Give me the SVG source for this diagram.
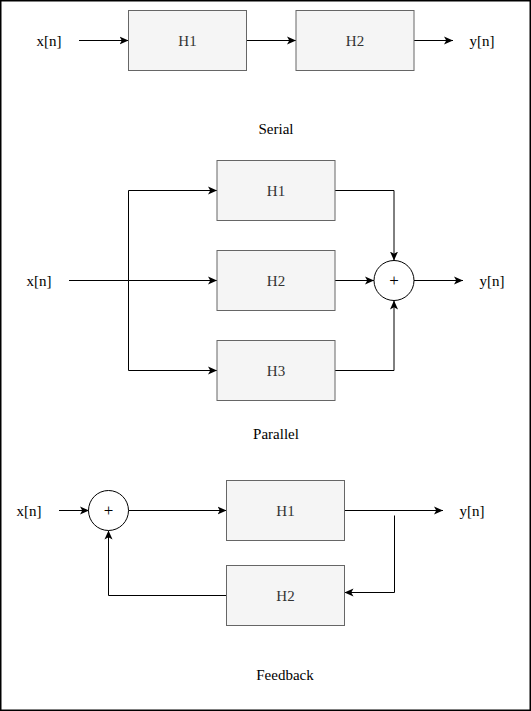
<svg xmlns="http://www.w3.org/2000/svg" width="531" height="711" viewBox="0 0 531 711">
<style>
.box{fill:#f5f5f5;stroke:#666;stroke-width:1}
.sum{fill:#fff;stroke:#000;stroke-width:1}
text{font-family:'Liberation Serif','Times New Roman',Times,serif;font-size:15px;fill:#000;text-anchor:middle}
.bt{fill:#333}
.pl{font-size:17px}
.c{fill:none;stroke:#000;stroke-width:1;marker-end:url(#ah)}
.cn{fill:none;stroke:#000;stroke-width:1}
</style>
<defs>
<marker id="ah" viewBox="0 0 10 10" refX="10" refY="5" markerWidth="9" markerHeight="9" markerUnits="userSpaceOnUse" orient="auto">
<path d="M0,0.5 L10,5 L0,9.5 L2.5,5 z" fill="#000"/>
</marker>
</defs>
<rect x="0.75" y="0.75" width="529.5" height="709.5" fill="#fff" stroke="#000" stroke-width="1.5"/>

<g id="connectors">
<path class="c" d="M79,40.5 L128.5,40.5"/>
<path class="c" d="M246.5,40.5 L296,40.5"/>
<path class="c" d="M414,40.5 L453,40.5"/>
<path class="cn" d="M69,280.5 L128.5,280.5"/>
<path class="c" d="M128.5,280.5 L217,280.5"/>
<path class="c" d="M128.5,280.5 L128.5,190.5 L217,190.5"/>
<path class="c" d="M128.5,280.5 L128.5,370.5 L217,370.5"/>
<path class="c" d="M335,190.5 L394,190.5 L394,260.5"/>
<path class="c" d="M335,280.5 L374,280.5"/>
<path class="c" d="M335,370.5 L394,370.5 L394,300.5"/>
<path class="c" d="M414,280.5 L463,280.5"/>
<path class="c" d="M59,510.5 L89,510.5"/>
<path class="c" d="M128.5,510.5 L226.5,510.5"/>
<path class="c" d="M344.5,510.5 L443,510.5"/>
<path class="c" d="M394.5,515.5 L394.5,592.5 L344.5,592.5"/>
<path class="c" d="M226.5,595.5 L108.5,595.5 L108.5,530.5"/>
</g>

<g id="serial-x"><text x="49" y="46">x[n]</text></g>
<g id="serial-H1"><rect class="box" x="128.5" y="10.5" width="118" height="60"/><text class="bt" x="187.5" y="46">H1</text></g>
<g id="serial-H2"><rect class="box" x="296" y="10.5" width="118" height="60"/><text class="bt" x="355" y="46">H2</text></g>
<g id="serial-y"><text x="482" y="46">y[n]</text></g>
<g id="serial-label"><text x="276" y="134">Serial</text></g>

<g id="parallel-x"><text x="39" y="286">x[n]</text></g>
<g id="parallel-H1"><rect class="box" x="217" y="160.5" width="118" height="60"/><text class="bt" x="276" y="196">H1</text></g>
<g id="parallel-H2"><rect class="box" x="217" y="250.5" width="118" height="60"/><text class="bt" x="276" y="286">H2</text></g>
<g id="parallel-H3"><rect class="box" x="217" y="340.5" width="118" height="60"/><text class="bt" x="276" y="376">H3</text></g>
<g id="parallel-sum"><circle class="sum" cx="394" cy="280.5" r="20"/><text class="pl" x="394" y="286">+</text></g>
<g id="parallel-y"><text x="492" y="286">y[n]</text></g>
<g id="parallel-label"><text x="276" y="439">Parallel</text></g>

<g id="feedback-x"><text x="29" y="516">x[n]</text></g>
<g id="feedback-sum"><circle class="sum" cx="108.5" cy="510.5" r="20"/><text class="pl" x="108.5" y="516">+</text></g>
<g id="feedback-H1"><rect class="box" x="226.5" y="480.5" width="118" height="60"/><text class="bt" x="285.5" y="516">H1</text></g>
<g id="feedback-H2"><rect class="box" x="226.5" y="565.5" width="118" height="60"/><text class="bt" x="285.5" y="601">H2</text></g>
<g id="feedback-y"><text x="472" y="516">y[n]</text></g>
<g id="feedback-label"><text x="285" y="680">Feedback</text></g>
</svg>
